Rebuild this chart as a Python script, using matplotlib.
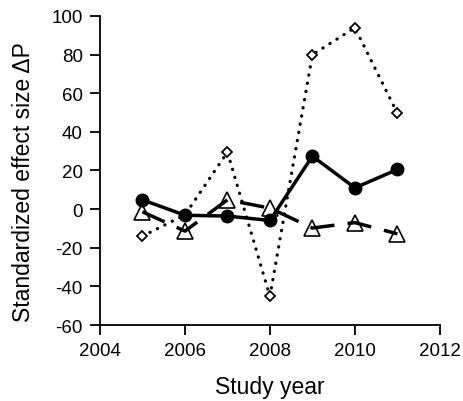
import matplotlib
matplotlib.use("Agg")
import matplotlib.pyplot as plt

plt.rcParams['font.family'] = ['Liberation Sans', 'DejaVu Sans']
plt.rcParams['axes.unicode_minus'] = False

years = [2005, 2006, 2007, 2008, 2009, 2010, 2011]
solid_circles = [4.8, -3.2, -3.6, -5.9, 27.4, 11.0, 20.5]
open_triangles = [-1.4, -11.4, 4.8, 0.5, -9.8, -7.0, -12.8]
open_diamonds = [-14.0, -3.0, 29.5, -45.2, 79.9, 93.9, 49.6]

fig = plt.figure(figsize=(4.63, 4.02), dpi=100)
ax = fig.add_axes([0.216, 0.189, 0.734, 0.769])

# dotted series with small open diamonds
ax.plot(years, open_diamonds, linestyle=(0, (0.1, 2.5)), color='black', linewidth=2.3,
        dash_capstyle='round', marker='D', markersize=5, markerfacecolor='white',
        markeredgecolor='black', markeredgewidth=1.3, zorder=2)
# open triangles, dashed line drawn over the markers
ax.plot(years, open_triangles, linestyle='none', marker='^', markersize=11.5,
        markerfacecolor='white', markeredgecolor='black', markeredgewidth=1.2, zorder=3)
ax.plot(years, open_triangles, linestyle=(0, (7, 3.8)), color='black', linewidth=2.5, zorder=3.5)
# solid circles
ax.plot(years, solid_circles, linestyle='-', color='black', linewidth=2.5,
        marker='o', markersize=9, markerfacecolor='black', markeredgecolor='black',
        zorder=4)

ax.set_xlim(2004, 2012)
ax.set_ylim(-60, 100)
ax.set_xticks([2004, 2006, 2008, 2010, 2012])
ax.set_yticks(range(-60, 101, 20))

for s in ['top', 'right']:
    ax.spines[s].set_visible(False)
for s in ['left', 'bottom']:
    ax.spines[s].set_linewidth(1.3)

ax.tick_params(direction='out', length=7.5, width=1.3, labelsize=13.5, pad=5)
ax.set_xlabel("Study year", fontsize=16.5)
ax.set_ylabel("Standardized effect size ΔP", fontsize=16.5)
ax.xaxis.set_label_coords(0.5, -0.163)
ax.yaxis.set_label_coords(-0.192, 0.465)

fig.savefig("out.png", dpi=100)
